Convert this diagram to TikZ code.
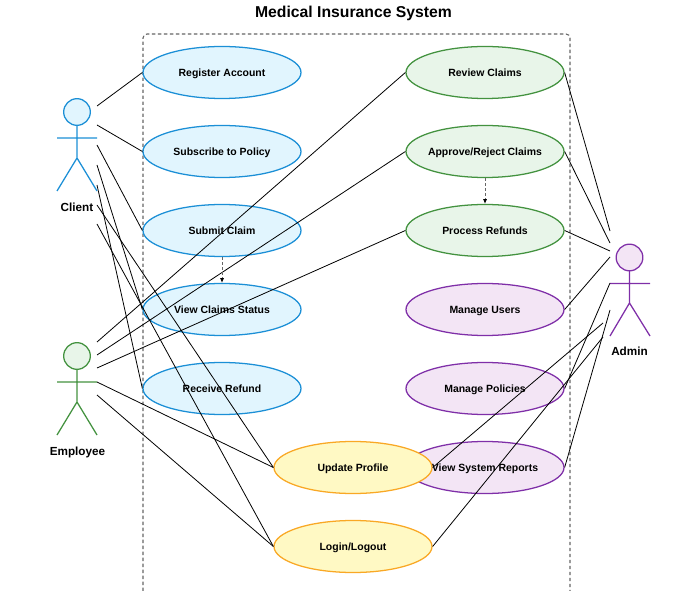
\documentclass[tikz,border=0pt]{standalone}
\usepackage{fontspec}
\setmainfont{Liberation Sans}
\usetikzlibrary{shapes.geometric,arrows.meta}
\definecolor{clientline}{HTML}{1B8FD6}
\definecolor{clientfill}{HTML}{E1F5FE}
\definecolor{staffline}{HTML}{43923F}
\definecolor{stafffill}{HTML}{E8F5E9}
\definecolor{adminline}{HTML}{7F2FA8}
\definecolor{adminfill}{HTML}{F3E5F5}
\definecolor{sharedline}{HTML}{F9A825}
\definecolor{sharedfill}{HTML}{FFF9C4}
\tikzstyle{usecase} = [draw, ellipse, line width=0.95pt, minimum width=118.5pt, minimum height=39pt, inner xsep=-18pt, inner ysep=0pt, text height=6.7pt, text depth=0pt, font=\fontsize{7.85}{10}\selectfont\bfseries]
\tikzstyle{clientcase} = [usecase, draw=clientline, fill=clientfill]
\tikzstyle{staffcase} = [usecase, draw=staffline, fill=stafffill]
\tikzstyle{admincase} = [usecase, draw=adminline, fill=adminfill]
\tikzstyle{sharedcase} = [usecase, draw=sharedline, fill=sharedfill]
\tikzstyle{link} = [black, line width=0.6pt]
\tikzstyle{extend} = [dash pattern=on 2.2pt off 1.5pt, line width=0.6pt, black!60, -{Latex[black,length=3.5pt,width=3pt]}]
\tikzstyle{actorname} = [font=\fontsize{8.8}{11}\selectfont\bfseries]
\begin{document}
\begin{tikzpicture}[x=0.75pt,y=-0.75pt]
    \useasboundingbox (0,0) rectangle (692,591);
    \node [font=\fontsize{11.8}{14}\selectfont\bfseries] (title) at (353.5,13) {Medical Insurance System};
    \draw [dash pattern=on 2.6pt off 1.9pt, line width=0.8pt, black!60, rounded corners=3pt] (143,591) -- (143,34) -- (570,34) -- (570,591);

    % actors
    \draw [clientline, fill=clientfill, line width=0.95pt] (77,112) circle (10pt);
    \draw [clientline, line width=0.95pt] (77,125.5) -- (77,158) (57,138) -- (97,138) (57,191) -- (77,158) -- (97,191);
    \node [actorname] (client) at (77,207.5) {Client};
    \draw [staffline, fill=stafffill, line width=0.95pt] (77,356) circle (10pt);
    \draw [staffline, line width=0.95pt] (77,369.5) -- (77,402) (57,382) -- (97,382) (57,435) -- (77,402) -- (97,435);
    \node [actorname] (employee) at (77.5,452.5) {Employee};
    \draw [adminline, fill=adminfill, line width=0.95pt] (629.5,257.5) circle (10pt);
    \draw [adminline, line width=0.95pt] (629.5,271) -- (629.5,303) (610,283.5) -- (650,283.5) (610,336) -- (629.5,303) -- (650,336);
    \node [actorname] (admin) at (629.5,351.5) {Admin};

    % actor ends
    \foreach \y [count=\i] in {106,125,145,165,185,205,224}
        \coordinate (c\i) at (97,\y);
    \foreach \y [count=\i] in {342,355,368,382,395}
        \coordinate (e\i) at (97,\y);
    \foreach \y [count=\i] in {231,243,251,257,283,310}
        \coordinate (a\i) at (610,\y);
    \coordinate (a7) at (603,323);
    \coordinate (a8) at (603,337);

    % use cases
    \node [clientcase] (register) at (222,72.5) {Register Account};
    \node [clientcase] (subscribe) at (222,151.5) {Subscribe to Policy};
    \node [clientcase] (submit) at (222,230.5) {Submit Claim};
    \node [clientcase] (status) at (222,309.5) {View Claims Status};
    \node [clientcase] (refund) at (222,388.5) {Receive Refund};
    \node [staffcase] (review) at (485,72.5) {Review Claims};
    \node [staffcase] (approve) at (485,151.5) {Approve/Reject Claims};
    \node [staffcase] (process) at (485,230.5) {Process Refunds};
    \node [admincase] (users) at (485,309.5) {Manage Users};
    \node [admincase] (policies) at (485,388.5) {Manage Policies};
    \node [admincase] (reports) at (485,467.5) {View System Reports};
    \node [sharedcase] (profile) at (353,467.5) {Update Profile};
    \node [sharedcase] (login) at (353,546.5) {Login/Logout};

    % links
    \draw [link] (c1) -- (register.west);
    \draw [link] (c2) -- (subscribe.west);
    \draw [link] (c3) -- (submit.west);
    \draw [link] (c4) -- (status.west);
    \draw [link] (c5) -- (refund.west);
    \draw [link] (c6) -- (profile.west);
    \draw [link] (c7) -- (login.west);
    \draw [link] (e1) -- (review.west);
    \draw [link] (e2) -- (approve.west);
    \draw [link] (e3) -- (process.west);
    \draw [link] (e4) -- (profile.west);
    \draw [link] (e5) -- (login.west);
    \draw [link] (review.east) -- (a1);
    \draw [link] (approve.east) -- (a2);
    \draw [link] (process.east) -- (a3);
    \draw [link] (users.east) -- (a4);
    \draw [link] (policies.east) -- (a5);
    \draw [link] (reports.east) -- (a6);
    \draw [link] (profile.east) -- (a7);
    \draw [link] (login.east) -- (a8);
    \draw [extend] (submit) -- (status);
    \draw [extend] (approve) -- (process);
\end{tikzpicture}
\end{document}
